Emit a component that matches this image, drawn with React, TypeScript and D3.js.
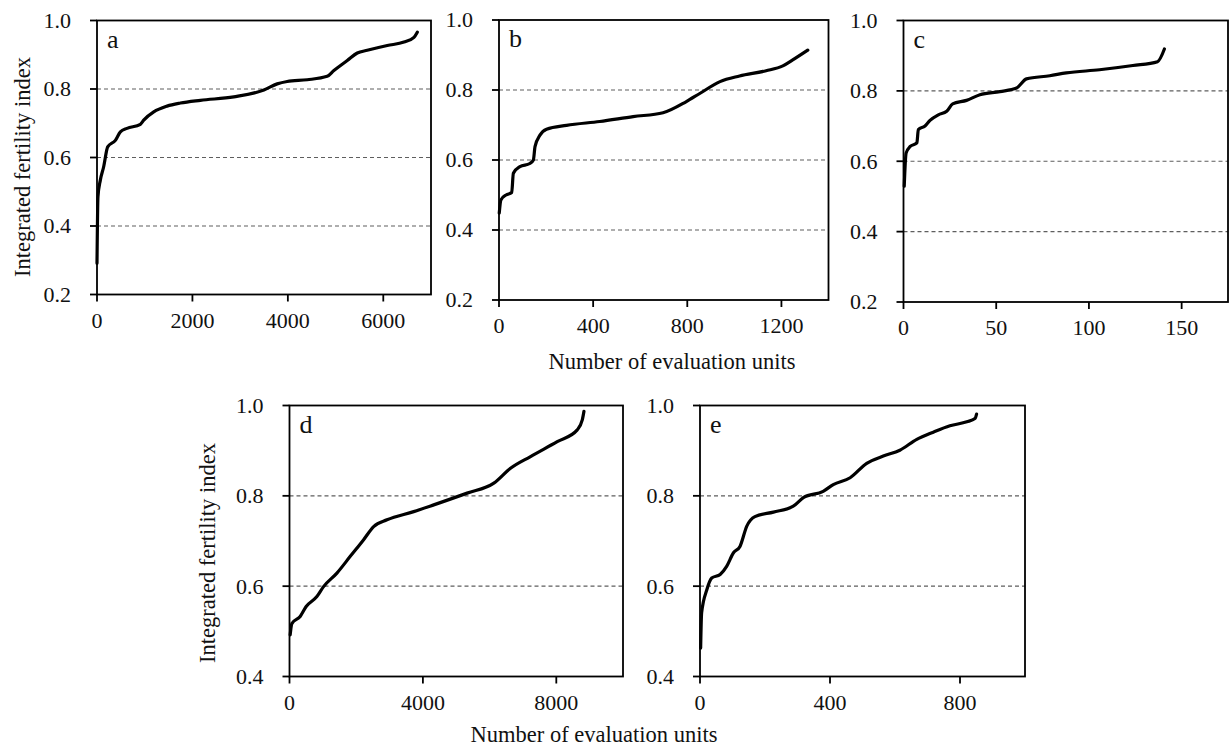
import React, { useRef, useEffect } from "react";
import * as d3 from "d3";

// panel a
const unitsA = [0, 20, 70, 140, 224, 385, 490, 630, 909, 979, 1189, 1469, 1748, 2168, 2867, 3497, 3776, 3986, 4406, 4825, 4965, 5245, 5455, 5664, 6084, 6434, 6643, 6713];
const ifiA = [0.291, 0.485, 0.534, 0.573, 0.631, 0.65, 0.675, 0.685, 0.697, 0.709, 0.733, 0.75, 0.759, 0.767, 0.777, 0.797, 0.815, 0.822, 0.827, 0.837, 0.854, 0.883, 0.905, 0.913, 0.927, 0.937, 0.951, 0.966];

// panel b
const unitsB = [1, 8, 30, 54, 61, 89, 131, 146, 153, 174, 202, 287, 428, 570, 697, 796, 853, 939, 1022, 1135, 1206, 1248, 1312];
const ifiB = [0.448, 0.486, 0.5, 0.507, 0.562, 0.581, 0.59, 0.6, 0.638, 0.671, 0.688, 0.699, 0.71, 0.724, 0.735, 0.767, 0.79, 0.824, 0.84, 0.855, 0.869, 0.886, 0.914];

// panel c
const unitsC = [0.4, 1.4, 3.6, 7.2, 8, 11.6, 14.3, 18.8, 23.3, 26.5, 34, 41.2, 52, 61, 66.3, 78.9, 87.8, 105.7, 123.7, 137, 140.7];
const ifiC = [0.529, 0.623, 0.642, 0.652, 0.69, 0.7, 0.716, 0.732, 0.742, 0.763, 0.773, 0.789, 0.798, 0.808, 0.834, 0.843, 0.851, 0.86, 0.872, 0.883, 0.919];

// panel d
const unitsD = [20, 70, 320, 500, 821, 1021, 1422, 1822, 2223, 2523, 2923, 3724, 4325, 5326, 6127, 6627, 7227, 8028, 8629, 8779, 8829];
const ifiD = [0.492, 0.517, 0.533, 0.555, 0.577, 0.599, 0.629, 0.666, 0.703, 0.732, 0.747, 0.765, 0.78, 0.806, 0.828, 0.861, 0.887, 0.92, 0.946, 0.968, 0.987];

// panel e
const unitsE = [2, 5, 21, 36, 62, 82, 103, 123, 144, 169, 226, 287, 318, 379, 410, 462, 513, 564, 615, 667, 718, 769, 821, 846, 851];
const ifiE = [0.463, 0.541, 0.592, 0.618, 0.626, 0.644, 0.674, 0.688, 0.733, 0.754, 0.764, 0.777, 0.796, 0.81, 0.825, 0.84, 0.872, 0.888, 0.901, 0.925, 0.941, 0.955, 0.964, 0.971, 0.981];

const xTicksA = [0, 2000, 4000, 6000];
const xTicksB = [0, 400, 800, 1200];
const xTicksC = [0, 50, 100, 150];
const xTicksD = [0, 4000, 8000];
const xTicksE = [0, 400, 800];
const yTicksTop = [0.2, 0.4, 0.6, 0.8, 1.0];
const yTicksBottom = [0.4, 0.6, 0.8, 1.0];

const yTitle = "Integrated fertility index";
const xTitle = "Number of evaluation units";
const FONT = "'Liberation Serif', 'Times New Roman', serif";

const App = () => {
  const svgRef = useRef<SVGSVGElement>(null);

  useEffect(() => {
    const svg = d3.select(svgRef.current);
    svg.selectAll("*").remove();

    const panels = [
      { key: "a", xs: unitsA, ys: ifiA, xMax: 7000, xTicks: xTicksA, yTicks: yTicksTop, yMin: 0.2, left: 97, right: 431, top: 20.5, bottom: 294.5 },
      { key: "b", xs: unitsB, ys: ifiB, xMax: 1400, xTicks: xTicksB, yTicks: yTicksTop, yMin: 0.2, left: 499, right: 828.5, top: 20, bottom: 300 },
      { key: "c", xs: unitsC, ys: ifiC, xMax: 175, xTicks: xTicksC, yTicks: yTicksTop, yMin: 0.2, left: 903.5, right: 1228, top: 20.5, bottom: 302 },
      { key: "d", xs: unitsD, ys: ifiD, xMax: 10000, xTicks: xTicksD, yTicks: yTicksBottom, yMin: 0.4, left: 289.5, right: 623, top: 405.5, bottom: 676.5 },
      { key: "e", xs: unitsE, ys: ifiE, xMax: 1000, xTicks: xTicksE, yTicks: yTicksBottom, yMin: 0.4, left: 700, right: 1025, top: 405.5, bottom: 676.5 },
    ];

    panels.forEach((p) => {
      const x = d3.scaleLinear().domain([0, p.xMax]).range([p.left, p.right]);
      const y = d3.scaleLinear().domain([p.yMin, 1.0]).range([p.bottom, p.top]);
      const g = svg.append("g");

      // dashed gridlines
      g.selectAll("line.grid")
        .data(p.yTicks.filter((t) => t > p.yMin && t < 1))
        .join("line")
        .attr("class", "grid")
        .attr("x1", p.left)
        .attr("x2", p.right)
        .attr("y1", (d) => y(d))
        .attr("y2", (d) => y(d))
        .attr("stroke", "#5e5e5e")
        .attr("stroke-width", 1.2)
        .attr("stroke-dasharray", "4,3");

      // frame
      g.append("rect")
        .attr("x", p.left)
        .attr("y", p.top)
        .attr("width", p.right - p.left)
        .attr("height", p.bottom - p.top)
        .attr("fill", "none")
        .attr("stroke", "#000")
        .attr("stroke-width", 1.8);

      // y ticks
      g.selectAll("line.yt")
        .data(p.yTicks)
        .join("line")
        .attr("class", "yt")
        .attr("x1", p.left - 7)
        .attr("x2", p.left)
        .attr("y1", (d) => y(d))
        .attr("y2", (d) => y(d))
        .attr("stroke", "#000")
        .attr("stroke-width", 1.8);

      g.selectAll("text.yl")
        .data(p.yTicks)
        .join("text")
        .attr("class", "yl")
        .attr("x", p.left - 26)
        .attr("y", (d) => y(d))
        .attr("dy", "0.34em")
        .attr("text-anchor", "end")
        .attr("fill", "#111")
        .style("font-family", FONT)
        .style("font-size", "22px")
        .text((d) => d.toFixed(1));

      // x ticks
      g.selectAll("line.xt")
        .data(p.xTicks)
        .join("line")
        .attr("class", "xt")
        .attr("x1", (d) => x(d))
        .attr("x2", (d) => x(d))
        .attr("y1", p.bottom)
        .attr("y2", p.bottom + 7)
        .attr("stroke", "#000")
        .attr("stroke-width", 1.8);

      g.selectAll("text.xl")
        .data(p.xTicks)
        .join("text")
        .attr("class", "xl")
        .attr("x", (d) => x(d))
        .attr("y", p.bottom + 33)
        .attr("text-anchor", "middle")
        .attr("fill", "#111")
        .style("font-family", FONT)
        .style("font-size", "22px")
        .text((d) => String(d));

      // curve
      const pts = p.xs.map((v, i) => [v, p.ys[i]] as [number, number]);
      const line = d3
        .line<[number, number]>()
        .x((d) => x(d[0]))
        .y((d) => y(d[1]))
        .curve(d3.curveMonotoneX);
      g.append("path")
        .attr("d", line(pts))
        .attr("fill", "none")
        .attr("stroke", "#000")
        .attr("stroke-width", 3.2)
        .attr("stroke-linejoin", "round")
        .attr("stroke-linecap", "round");

      // panel letter
      g.append("text")
        .attr("x", p.left + 10)
        .attr("y", p.top + 27)
        .attr("fill", "#111")
        .style("font-family", FONT)
        .style("font-size", "26px")
        .text(p.key);
    });

    // axis titles
    const titles = [
      { t: yTitle, x: 30, y: 167, rot: true },
      { t: yTitle, x: 215, y: 553, rot: true },
      { t: xTitle, x: 672, y: 369, rot: false },
      { t: xTitle, x: 594, y: 742, rot: false },
    ];
    titles.forEach((d) => {
      svg.append("text")
        .attr("transform", d.rot ? `translate(${d.x},${d.y}) rotate(-90)` : `translate(${d.x},${d.y})`)
        .attr("text-anchor", "middle")
        .attr("fill", "#111")
        .style("font-family", FONT)
        .style("font-size", "22.5px")
        .text(d.t);
    });
  }, []);

  return (
    <div style={{ position: "absolute", left: 0, top: 0 }}>
      <svg ref={svgRef} width={1229} height={749} style={{ display: "block", background: "#fff" }}></svg>
    </div>
  );
};

export default App;
